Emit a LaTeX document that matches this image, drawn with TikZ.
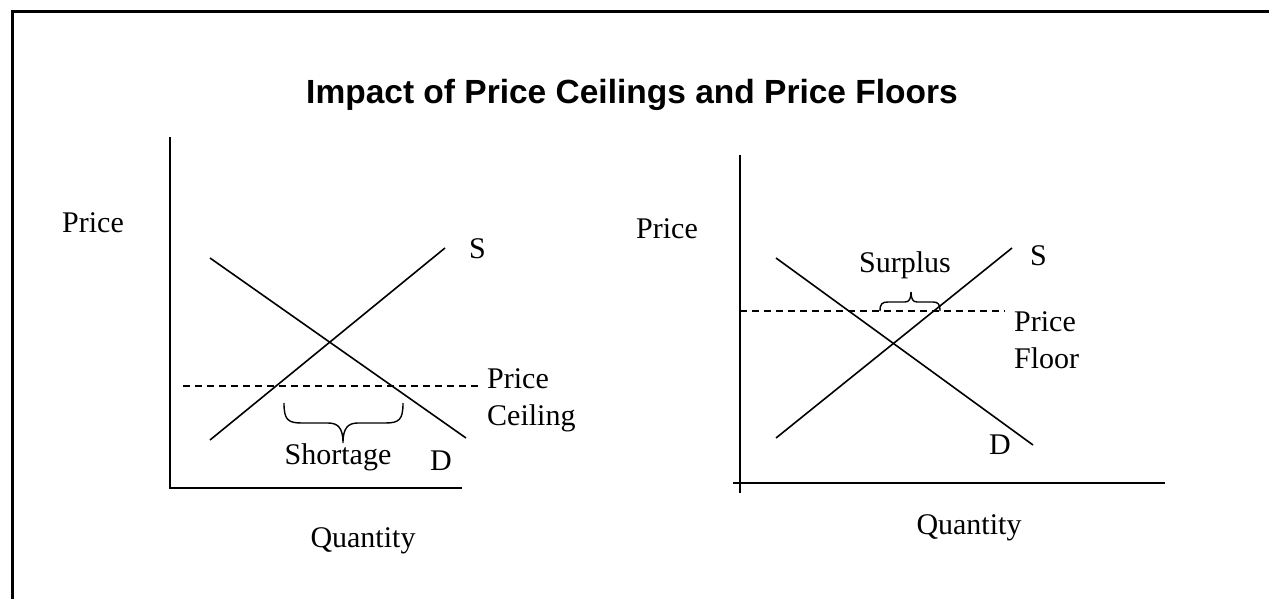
\documentclass[tikz,border=0pt]{standalone}
\usepackage{fontspec}
\setmainfont{Liberation Serif}
\newfontfamily\titlefont{Liberation Sans}
\usetikzlibrary{decorations.pathreplacing}
\begin{document}
\begin{tikzpicture}[x=1pt,y=-1pt,
  lbl/.style={inner sep=0pt,font=\fontsize{30}{36}\selectfont},
  axis/.style={line width=2.2pt},
  curve/.style={line width=1.6pt},
  ceil/.style={line width=1.2pt,dash pattern=on 7pt off 5pt},
  brcline/.style={line width=1.4pt},
  brc/.style={line width=1.4pt,decorate,decoration={brace,amplitude=#1}}]
\useasboundingbox (0,0) rectangle (1269,599);
\fill[white] (0,0) rectangle (1269,599);
% frame
\draw[line width=3pt] (12,599) -- (12,12) -- (1269,12);
% title
\node[inner sep=0pt,font=\titlefont\bfseries\fontsize{33.5}{40}\selectfont] (title) at (632,95) {Impact of Price Ceilings and Price Floors};

% ---------- left graph ----------
\coordinate (lyt) at (170,137);
\coordinate (lo) at (170,488);
\coordinate (lxr) at (462,488);
\draw[axis] (lyt) -- (lo) -- (lxr);
\coordinate (ls1) at (210,440); \coordinate (ls2) at (445,248);
\coordinate (ld1) at (210,258); \coordinate (ld2) at (466,438);
\draw[curve] (ls1) -- (ls2);
\draw[curve] (ld1) -- (ld2);
\coordinate (lc1) at (183,386); \coordinate (lc2) at (482,386);
\draw[ceil] (lc1) -- (lc2);
\coordinate (lb1) at (284,403); \coordinate (lb2) at (403,403);
\draw[brcline] (lb1) .. controls (284,420) and (288,423) .. (302,423)
  -- (328,423) .. controls (338,423) and (343,428) .. (343,443)
  .. controls (343,428) and (348,423) .. (358,423)
  -- (385,423) .. controls (399,423) and (403,420) .. (lb2);
\node[lbl,anchor=base] (shortage) at (338,464) {Shortage};
\node[lbl,anchor=base west] (ld) at (430,470) {D};
\node[lbl,anchor=base west] (ls) at (469,258) {S};
\node[lbl,anchor=base west,align=left] (lceil) at (487,425) {Price\\[1pt]Ceiling};
\node[lbl,anchor=base west] (lprice) at (62,232) {Price};
\node[lbl,anchor=base] (lq) at (363,547) {Quantity};

% ---------- right graph ----------
\coordinate (ryt) at (740,155);
\coordinate (ryb) at (740,493);
\draw[axis] (ryt) -- (ryb);
\coordinate (rx1) at (733,483); \coordinate (rx2) at (1165,483);
\draw[axis] (rx1) -- (rx2);
\coordinate (rs1) at (776,438); \coordinate (rs2) at (1012,248);
\coordinate (rd1) at (776,258); \coordinate (rd2) at (1033,445);
\draw[curve] (rs1) -- (rs2);
\draw[curve] (rd1) -- (rd2);
\coordinate (rf1) at (740,311); \coordinate (rf2) at (1005,311);
\draw[ceil] (rf1) -- (rf2);
\coordinate (rb1) at (880,311); \coordinate (rb2) at (940,311);
\draw[brcline] (rb1) .. controls (880,304) and (882,302) .. (888,302)
  -- (905,302) .. controls (909,302) and (911,299) .. (911,292)
  .. controls (911,299) and (913,302) .. (917,302)
  -- (933,302) .. controls (938,302) and (940,304) .. (rb2);
\node[lbl,anchor=base] (surplus) at (905,272) {Surplus};
\node[lbl,anchor=base west] (rs) at (1030,265) {S};
\node[lbl,anchor=base west] (rd) at (989,454) {D};
\node[lbl,anchor=base west,align=left] (rfloor) at (1014,368) {Price\\[1pt]Floor};
\node[lbl,anchor=base west] (rprice) at (636,238) {Price};
\node[lbl,anchor=base] (rq) at (969,534) {Quantity};
\end{tikzpicture}
\end{document}
